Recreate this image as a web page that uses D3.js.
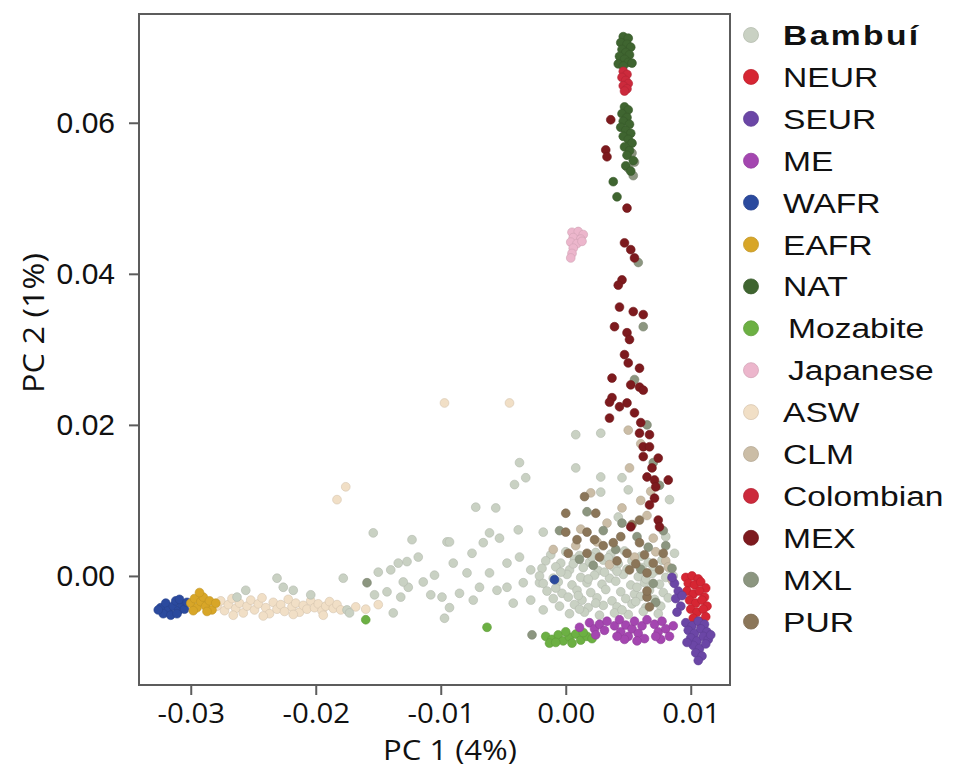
<!DOCTYPE html>
<html>
<head>
<meta charset="utf-8">
<script src="https://cdn.jsdelivr.net/npm/d3@7"></script>
<style>
  body { margin: 0; background: #fff; }
  text { fill: #111; }
</style>
</head>
<body>
<svg id="chart" width="953" height="769"></svg>
<script>
// Population groups, legend order
const groups = ["Bambuí", "NEUR", "SEUR", "ME", "WAFR", "EAFR", "NAT", "Mozabite",
  "Japanese", "ASW", "CLM", "Colombian", "MEX", "MXL", "PUR"];
const groupColors = ["#c9d1c3", "#d62633", "#6b46a6", "#a446b0", "#2b4a9e", "#d8a628", "#3f6530",
  "#6cb043", "#ecb6cc", "#f1dfc6", "#cbbda6", "#cc2a3c", "#7d1a1e", "#8c9680", "#8b7659"];

const xTicks = [-0.03, -0.02, -0.01, 0.00, 0.01];
const yTicks = [0.00, 0.02, 0.04, 0.06];
const xTitle = "PC 1 (4%)";
const yTitle = "PC 2 (1%)";

// Samples as [PC1, PC2]
const bambuiPts = [
  [-0.0154,0.0057],[-0.0123,0.0048],[-0.0095,0.0045],[-0.0118,0.0025],[-0.0134,0.0017],[-0.0127,0.0019],
  [-0.0150,0.0005],[-0.0105,0.0001],[-0.0178,-0.0003],[-0.0231,-0.0003],[-0.0226,-0.0015],[-0.0218,-0.0019],
  [-0.0204,-0.0025],[-0.0256,-0.0019],[-0.0263,-0.0028],[-0.0175,-0.0045],[-0.0173,-0.0049],[-0.0153,-0.0025],
  [-0.0143,-0.0021],[-0.0132,-0.0028],[-0.0126,-0.0015],[-0.0114,-0.0008],[-0.0108,-0.0025],[-0.0099,-0.0028],
  [-0.0097,-0.0056],[-0.0138,-0.0049],[-0.0130,-0.0008],[-0.0140,0.0008],
  [0.0008,0.0187],[0.0028,0.0189],[-0.0037,0.0150],[0.0008,0.0143],[-0.0032,0.0130],[-0.0041,0.0121],
  [-0.0072,0.0091],[-0.0056,0.0090],[0.0028,0.0131],[0.0045,0.0130],[0.0050,0.0114],[0.0042,0.0078],
  [0.0028,0.0111],[0.0087,0.0030],[0.0080,0.0052],[0.0083,0.0101],[0.0086,0.0000],
  [-0.0093,0.0045],[-0.0061,0.0057],[-0.0038,0.0061],[-0.0018,0.0058],[-0.0066,0.0044],[-0.0053,0.0050],
  [-0.0075,0.0030],[-0.0090,0.0017],[-0.0079,0.0004],[-0.0061,0.0004],[-0.0047,0.0017],[-0.0037,0.0025],
  [-0.0028,0.0008],[-0.0047,-0.0015],[-0.0034,-0.0009],[-0.0085,-0.0023],[-0.0074,-0.0032],[-0.0093,-0.0042],
  [-0.0055,-0.0019],[-0.0042,-0.0036],[-0.0028,-0.0032],[-0.0018,-0.0045],[-0.0021,-0.0009],[-0.0069,-0.0015],
  // dense core
  [-0.0012,0.0028],[0.0000,0.0032],[0.0011,0.0027],[0.0024,0.0031],[0.0036,0.0029],[0.0047,0.0033],[0.0060,0.0026],
  [-0.0016,0.0020],[-0.0004,0.0017],[0.0007,0.0022],[0.0019,0.0018],[0.0030,0.0021],[0.0042,0.0016],[0.0053,0.0020],[0.0066,0.0018],[0.0077,0.0021],
  [-0.0019,0.0010],[-0.0008,0.0012],[0.0003,0.0008],[0.0014,0.0011],[0.0026,0.0007],[0.0038,0.0012],[0.0049,0.0009],[0.0061,0.0011],[0.0072,0.0007],[0.0083,0.0010],
  [-0.0021,0.0000],[-0.0010,-0.0003],[0.0001,0.0002],[0.0012,-0.0002],[0.0023,0.0001],[0.0035,-0.0003],[0.0046,0.0002],[0.0058,-0.0001],[0.0069,0.0003],[0.0080,-0.0002],
  [-0.0018,-0.0010],[-0.0006,-0.0008],[0.0005,-0.0012],[0.0017,-0.0009],[0.0029,-0.0011],[0.0040,-0.0007],[0.0052,-0.0012],[0.0063,-0.0009],[0.0075,-0.0011],[0.0086,-0.0008],
  [-0.0015,-0.0020],[-0.0003,-0.0023],[0.0009,-0.0019],[0.0020,-0.0022],[0.0032,-0.0018],[0.0044,-0.0021],[0.0055,-0.0024],[0.0067,-0.0019],[0.0078,-0.0022],
  [-0.0010,-0.0030],[0.0002,-0.0028],[0.0013,-0.0032],[0.0025,-0.0029],[0.0037,-0.0033],[0.0048,-0.0030],[0.0060,-0.0027],[0.0071,-0.0031],[0.0082,-0.0029],
  [-0.0005,-0.0040],[0.0007,-0.0038],[0.0018,-0.0042],[0.0030,-0.0039],[0.0041,-0.0041],[0.0053,-0.0037],[0.0064,-0.0042],[0.0076,-0.0040],
  [0.0003,-0.0050],[0.0015,-0.0048],[0.0027,-0.0052],[0.0039,-0.0049],[0.0050,-0.0051],[0.0062,-0.0047],[0.0074,-0.0050],
  [0.0006,0.0016],[0.0031,0.0005],[0.0057,-0.0015],[0.0010,-0.0026],[0.0045,-0.0045],[0.0070,0.0013],[-0.0008,-0.0016],[0.0021,0.0025],
  [-0.0004,0.0005],[0.0018,-0.0004],[0.0041,0.0006],[0.0064,-0.0004],[0.0024,-0.0036],[0.0056,-0.0034],[0.0034,0.0024],[0.0011,-0.0044]
];
const neurPts = [
  [0.0096,-0.0002],[0.0101,0.0000],[0.0106,-0.0004],[0.0098,-0.0010],[0.0103,-0.0012],[0.0108,-0.0008],
  [0.0112,-0.0016],[0.0097,-0.0020],[0.0102,-0.0024],[0.0107,-0.0020],[0.0111,-0.0028],[0.0099,-0.0032],
  [0.0104,-0.0036],[0.0109,-0.0032],[0.0113,-0.0040],[0.0100,-0.0044],[0.0105,-0.0048],[0.0110,-0.0044],
  [0.0102,-0.0056],[0.0107,-0.0060],[0.0112,-0.0054],[0.0109,-0.0066]
];
const seurPts = [
  [0.0096,-0.0062],[0.0101,-0.0066],[0.0106,-0.0060],[0.0111,-0.0064],[0.0098,-0.0072],[0.0103,-0.0076],
  [0.0108,-0.0070],[0.0113,-0.0074],[0.0100,-0.0082],[0.0105,-0.0086],[0.0110,-0.0080],[0.0114,-0.0084],
  [0.0102,-0.0092],[0.0107,-0.0096],[0.0112,-0.0090],[0.0104,-0.0102],[0.0109,-0.0106],[0.0106,-0.0112],
  [0.0097,-0.0088],[0.0116,-0.0078],
  [0.0087,-0.0010],[0.0090,-0.0020],[0.0088,-0.0030],[0.0092,-0.0040],[0.0089,-0.0048],[0.0085,-0.0002],[0.0093,-0.0026]
];
const mePts = [
  [0.0019,-0.0062],[0.0023,-0.0070],[0.0027,-0.0064],[0.0031,-0.0072],[0.0024,-0.0078],[0.0033,-0.0060],
  [0.0039,-0.0066],[0.0043,-0.0058],[0.0044,-0.0074],[0.0048,-0.0065],[0.0050,-0.0080],[0.0053,-0.0070],
  [0.0055,-0.0060],[0.0058,-0.0076],[0.0061,-0.0066],[0.0063,-0.0083],[0.0047,-0.0084],[0.0057,-0.0086],
  [0.0041,-0.0080],[0.0065,-0.0058],[0.0071,-0.0064],[0.0074,-0.0074],[0.0077,-0.0060],[0.0080,-0.0070],
  [0.0083,-0.0080],[0.0086,-0.0066],[0.0076,-0.0084],[0.0072,-0.0080],[0.0011,-0.0068]
];
const wafrPts = [
  [-0.0324,-0.0042],[-0.0320,-0.0036],[-0.0318,-0.0046],[-0.0314,-0.0040],[-0.0312,-0.0033],[-0.0310,-0.0046],
  [-0.0307,-0.0038],[-0.0305,-0.0044],[-0.0322,-0.0050],[-0.0316,-0.0052],[-0.0309,-0.0031],[-0.0303,-0.0035],
  [-0.0326,-0.0045],[-0.0311,-0.0050],[-0.0009,-0.0005]
];
const eafrPts = [
  [-0.0300,-0.0036],[-0.0297,-0.0030],[-0.0295,-0.0042],[-0.0292,-0.0034],[-0.0290,-0.0028],[-0.0288,-0.0040],
  [-0.0285,-0.0033],[-0.0283,-0.0045],[-0.0280,-0.0036],[-0.0298,-0.0046],[-0.0287,-0.0047],[-0.0293,-0.0022]
];
const natPts = [
  [0.0046,0.0714],[0.0050,0.0712],[0.0044,0.0706],[0.0049,0.0704],[0.0052,0.0700],[0.0045,0.0697],
  [0.0048,0.0693],[0.0051,0.0690],[0.0043,0.0688],[0.0047,0.0684],[0.0050,0.0680],[0.0042,0.0678],
  [0.0053,0.0679],[0.0046,0.0675],
  [0.0047,0.0621],[0.0050,0.0617],[0.0045,0.0612],[0.0049,0.0607],[0.0046,0.0602],[0.0051,0.0598],
  [0.0044,0.0594],[0.0048,0.0590],[0.0052,0.0586],[0.0046,0.0582],[0.0050,0.0578],[0.0053,0.0573],
  [0.0047,0.0568],[0.0051,0.0563],[0.0049,0.0557],[0.0054,0.0550],[0.0048,0.0543],[0.0052,0.0536],
  [0.0038,0.0522],[0.0041,0.0502]
];
const mozabitePts = [
  [-0.0016,-0.0080],[-0.0011,-0.0084],[-0.0006,-0.0078],[-0.0002,-0.0086],[0.0003,-0.0081],[0.0008,-0.0077],
  [0.0012,-0.0085],[0.0017,-0.0080],[0.0021,-0.0083],[-0.0013,-0.0089],[0.0005,-0.0089],[0.0000,-0.0074],
  [-0.0063,-0.0068],[-0.0160,-0.0058],[-0.0008,-0.0088],[0.0014,-0.0075]
];
const japanesePts = [
  [0.0005,0.0455],[0.0010,0.0456],[0.0014,0.0452],[0.0006,0.0448],[0.0012,0.0446],[0.0004,0.0442],
  [0.0009,0.0440],[0.0013,0.0443],[0.0006,0.0434],[0.0005,0.0427],[0.0004,0.0421]
];
const aswPts = [
  [-0.0279,-0.0040],[-0.0276,-0.0033],[-0.0273,-0.0046],[-0.0270,-0.0038],[-0.0267,-0.0030],[-0.0264,-0.0043],
  [-0.0261,-0.0036],[-0.0258,-0.0049],[-0.0255,-0.0040],[-0.0252,-0.0032],[-0.0249,-0.0045],[-0.0246,-0.0037],
  [-0.0243,-0.0029],[-0.0240,-0.0042],[-0.0237,-0.0050],[-0.0234,-0.0035],[-0.0231,-0.0044],[-0.0228,-0.0038],
  [-0.0225,-0.0047],[-0.0222,-0.0031],[-0.0219,-0.0041],[-0.0216,-0.0036],[-0.0213,-0.0048],[-0.0210,-0.0039],
  [-0.0207,-0.0044],[-0.0204,-0.0033],[-0.0201,-0.0042],[-0.0198,-0.0037],[-0.0195,-0.0046],[-0.0192,-0.0040],
  [-0.0189,-0.0034],[-0.0186,-0.0043],[-0.0183,-0.0038],[-0.0180,-0.0045],[-0.0168,-0.0041],[-0.0160,-0.0044],
  [-0.0150,-0.0038],[-0.0266,-0.0052],[-0.0242,-0.0053],[-0.0218,-0.0051],[-0.0194,-0.0052],
  [-0.0097,0.0229],[-0.0045,0.0229],[-0.0176,0.0118],[-0.0183,0.0101]
];
const clmPts = [
  [0.0060,0.0100],[0.0050,0.0193],[0.0051,0.0143],[0.0045,0.0090],[0.0065,0.0080],[0.0070,0.0050],
  [0.0080,0.0020],[0.0085,-0.0005],[0.0025,0.0045],[0.0035,0.0015],[-0.0010,0.0035],[0.0055,0.0025],
  [0.0020,0.0110],[0.0060,0.0175],[0.0033,0.0070],[0.0012,0.0062],[0.0072,0.0032],[0.0082,0.0012],
  [0.0068,0.0112],[0.0008,0.0040]
];
const colombianPts = [
  [0.0046,0.0668],[0.0049,0.0664],[0.0045,0.0660],[0.0048,0.0656],[0.0050,0.0652],[0.0046,0.0649],
  [0.0049,0.0645],[0.0047,0.0642]
];
const mexPts = [
  [0.0049,0.0487],[0.0047,0.0441],[0.0052,0.0432],[0.0055,0.0421],[0.0045,0.0392],[0.0042,0.0385],
  [0.0043,0.0356],[0.0054,0.0350],[0.0062,0.0346],[0.0039,0.0330],[0.0049,0.0322],[0.0051,0.0313],
  [0.0047,0.0293],[0.0050,0.0282],[0.0059,0.0275],[0.0037,0.0262],[0.0052,0.0253],[0.0059,0.0250],
  [0.0062,0.0246],[0.0037,0.0236],
  [0.0035,0.0230],[0.0043,0.0224],[0.0049,0.0229],[0.0055,0.0216],[0.0035,0.0209],[0.0060,0.0203],
  [0.0059,0.0189],[0.0067,0.0187],[0.0062,0.0171],[0.0067,0.0171],[0.0074,0.0156],[0.0062,0.0158],
  [0.0069,0.0143],[0.0065,0.0131],[0.0071,0.0127],[0.0082,0.0127],[0.0072,0.0118],[0.0071,0.0103],
  [0.0067,0.0094],[0.0074,0.0074],[0.0075,0.0065],[0.0052,0.0065],
  [0.0036,0.0604],[0.0032,0.0564],[0.0033,0.0555]
];
const mxlPts = [
  [0.0053,0.0560],[0.0055,0.0548],[0.0050,0.0540],[0.0054,0.0530],[0.0058,0.0415],[0.0062,0.0330],
  [0.0055,0.0260],[0.0065,0.0200],[0.0070,0.0150],[0.0075,0.0120],[0.0078,0.0060],[0.0080,0.0040],
  [0.0017,0.0085],[0.0030,0.0060],[0.0045,0.0070],[-0.0005,0.0060],[0.0040,0.0035],[-0.0027,-0.0078],
  [-0.0159,-0.0009],[0.0022,0.0014],[0.0057,0.0052],[0.0066,0.0038],[0.0011,0.0022],[0.0085,0.0010],
  [0.0070,-0.0010],[0.0072,-0.0035],[0.0060,0.0009]
];
const purPts = [
  [0.0000,0.0058],[0.0017,0.0058],[0.0038,0.0044],[0.0059,0.0044],[0.0049,0.0030],[0.0017,0.0030],
  [0.0027,0.0025],[0.0070,0.0017],[0.0075,0.0008],[0.0065,0.0004],[0.0051,0.0008],[0.0002,0.0030],
  [0.0009,0.0048],[0.0059,0.0074],[0.0053,0.0068],[0.0065,-0.0028],[0.0067,-0.0041],[0.0065,-0.0020],
  [0.0000,0.0083],[0.0015,0.0105],[0.0024,0.0083],[0.0044,0.0052],[0.0030,0.0040],[0.0063,0.0028],
  [0.0023,0.0048],[0.0078,0.0030],[0.0041,0.0020],[0.0056,0.0016]
];

const groupPoints = [bambuiPts, neurPts, seurPts, mePts, wafrPts, eafrPts, natPts, mozabitePts,
  japanesePts, aswPts, clmPts, colombianPts, mexPts, mxlPts, purPts];

// Layers are painted back to front
const drawOrder = ["ASW", "Bambuí", "CLM", "MXL", "PUR", "Mozabite", "ME", "NEUR", "SEUR",
  "WAFR", "EAFR", "Japanese", "MEX", "NAT", "Colombian"];

const svg = d3.select("#chart");
const plot = { left: 139, top: 14, right: 730, bottom: 685 };

const x = d3.scaleLinear().domain([-0.03414, 0.01314]).range([plot.left, plot.right]);
const y = d3.scaleLinear().domain([-0.01444, 0.0744]).range([plot.bottom, plot.top]);

const fmt = d => d.toFixed(2);  // keeps the plain hyphen for negatives

// Points
const marks = svg.append("g");
drawOrder.forEach(name => {
  const i = groups.indexOf(name);
  const c = groupColors[i];
  marks.append("g")
    .selectAll("circle")
    .data(groupPoints[i])
    .join("circle")
    .attr("cx", d => x(d[0]))
    .attr("cy", d => y(d[1]))
    .attr("r", 4.4)
    .attr("fill", c)
    .attr("stroke", d3.color(c).darker(0.35))
    .attr("stroke-width", 0.6);
});

// Frame
svg.append("rect")
  .attr("x", plot.left).attr("y", plot.top)
  .attr("width", plot.right - plot.left).attr("height", plot.bottom - plot.top)
  .attr("fill", "none").attr("stroke", "#5c5c5c").attr("stroke-width", 2);

// Axes
const xAxis = svg.append("g")
  .attr("transform", `translate(0,${plot.bottom})`)
  .call(d3.axisBottom(x).tickValues(xTicks).tickFormat(fmt).tickSize(10).tickPadding(8));
xAxis.select(".domain").remove();
xAxis.selectAll(".tick line").attr("stroke", "#5c5c5c").attr("stroke-width", 2);
xAxis.selectAll(".tick text")
  .attr("fill", "#111")
  .attr("transform", "scale(1.05,1)")
  .style("font-family", "'Open Sans', sans-serif")
  .style("font-size", "28px");

const yAxis = svg.append("g")
  .attr("transform", `translate(${plot.left},0)`)
  .call(d3.axisLeft(y).tickValues(yTicks).tickFormat(fmt).tickSize(10).tickPadding(14));
yAxis.select(".domain").remove();
yAxis.selectAll(".tick line").attr("stroke", "#5c5c5c").attr("stroke-width", 2);
yAxis.selectAll(".tick text")
  .attr("fill", "#111")
  .style("font-family", "'Liberation Sans', Arial, sans-serif")
  .style("font-size", "30px");

// Axis titles
svg.append("text")
  .attr("transform", "translate(450,760) scale(1.15,1)")
  .attr("text-anchor", "middle")
  .style("font-family", "'Open Sans', sans-serif")
  .style("font-size", "27px")
  .text(xTitle);

svg.append("text")
  .attr("transform", "translate(44,323) rotate(-90) scale(1.12,1)")
  .attr("text-anchor", "middle")
  .style("font-family", "'Open Sans', sans-serif")
  .style("font-size", "29px")
  .text(yTitle);

// Legend
const legend = svg.append("g").attr("transform", "translate(751,35)");
const item = legend.selectAll("g")
  .data(groups)
  .join("g")
  .attr("transform", (d, i) => `translate(0,${i * 41.9})`);
item.append("circle")
  .attr("r", 7.5)
  .attr("fill", (d, i) => groupColors[i])
  .attr("stroke", (d, i) => d3.color(groupColors[i]).darker(0.3))
  .attr("stroke-width", 0.8);
item.append("text")
  .attr("transform", d => `translate(${d === "Mozabite" || d === "Japanese" ? 37 : 32},10) scale(1.2,1)`)
  .style("font-family", "'Liberation Sans', Arial, sans-serif")
  .style("font-size", "28px")
  .style("font-weight", (d, i) => i === 0 ? "bold" : "normal")
  .style("letter-spacing", (d, i) => i === 0 ? "2px" : null)
  .text(d => d);
</script>
</body>
</html>
